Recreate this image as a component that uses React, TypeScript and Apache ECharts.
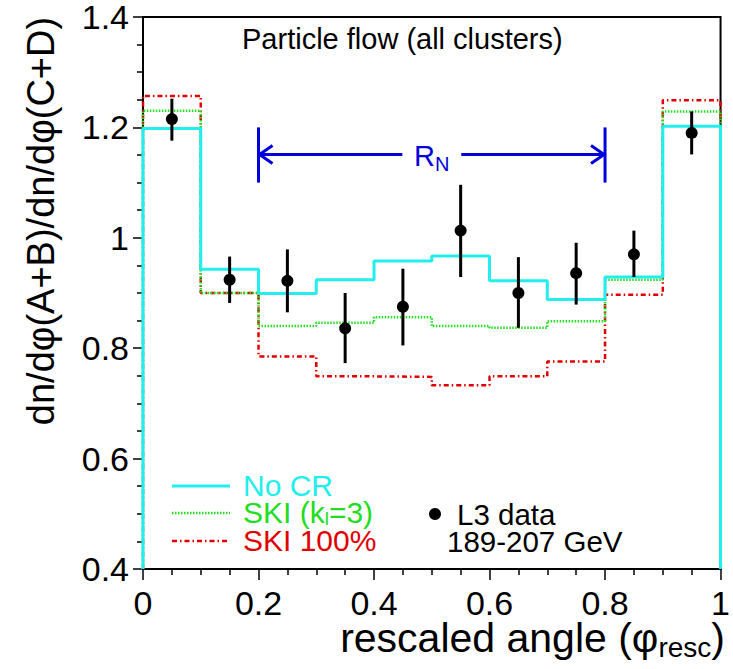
import React, { useEffect, useRef } from "react";
import * as echarts from "echarts";

// Histogram bin edges (11 edges -> 10 bins)
const binEdges = [0, 0.1, 0.2, 0.3, 0.4, 0.5, 0.6, 0.7, 0.8, 0.9, 1.0];
// Model predictions per bin
const noCR = [1.198, 0.943, 0.899, 0.924, 0.958, 0.967, 0.922, 0.888, 0.929, 1.202];
const skiK3 = [1.23, 0.9, 0.84, 0.846, 0.856, 0.84, 0.837, 0.849, 0.924, 1.229];
const ski100 = [1.257, 0.9, 0.785, 0.749, 0.748, 0.733, 0.749, 0.776, 0.897, 1.249];
// L3 data points
const dataX = [0.05, 0.15, 0.25, 0.35, 0.45, 0.55, 0.65, 0.75, 0.85, 0.95];
const dataY = [1.215, 0.924, 0.922, 0.836, 0.875, 1.013, 0.9, 0.936, 0.97, 1.19];
const errLow = [1.176, 0.882, 0.865, 0.773, 0.805, 0.929, 0.837, 0.879, 0.929, 1.151];
const errHigh = [1.252, 0.966, 0.979, 0.9, 0.944, 1.096, 0.965, 0.991, 1.013, 1.229];
// R_N arrow range
const arrowRange = [0.2, 0.8];
const arrowY = 1.151;
const arrowBar = [1.1, 1.2];
const arrowGap = [0.449, 0.551];
// axis
const yMin = 0.4;
const yMax = 1.4;

const FONT = "Liberation Sans, Arial, Helvetica, sans-serif";

function stepData(vals: number[]) {
  const pts: number[][] = [[binEdges[0], yMin]];
  vals.forEach((v, i) => pts.push([binEdges[i], v]));
  pts.push([binEdges[binEdges.length - 1], vals[vals.length - 1]]);
  pts.push([binEdges[binEdges.length - 1], yMin]);
  return pts;
}

export default function App() {
  const ref = useRef<HTMLDivElement>(null);
  useEffect(() => {
    if (!ref.current) return;
    const chart = echarts.init(ref.current, null, { renderer: "svg" });
    const axisText = { color: "#000", fontFamily: FONT, fontSize: 34 };
    chart.setOption({
      animation: false,
      backgroundColor: "#fff",
      grid: {
        left: 143,
        right: 6,
        top: 11,
        bottom: 100,
        show: true,
        borderColor: "#000",
        borderWidth: 2,
      },
      xAxis: {
        type: "value",
        min: 0,
        max: 1,
        interval: 0.2,
        axisLine: { show: true, lineStyle: { color: "#000", width: 2 } },
        axisTick: { show: true, inside: false, length: 11, lineStyle: { color: "#000", width: 1.5 } },
        minorTick: { show: true, splitNumber: 4, length: 6, lineStyle: { color: "#000", width: 1.5 } },
        splitLine: { show: false },
        axisLabel: { ...axisText, margin: 17 },
      },
      yAxis: {
        type: "value",
        min: yMin,
        max: yMax,
        interval: 0.2,
        axisLine: { show: true, lineStyle: { color: "#000", width: 2 } },
        axisTick: { show: true, inside: false, length: 10, lineStyle: { color: "#000", width: 1.5 } },
        minorTick: { show: true, splitNumber: 4, length: 6, lineStyle: { color: "#000", width: 1.5 } },
        splitLine: { show: false },
        axisLabel: { ...axisText, margin: 14 },
      },
      series: [
        {
          name: "SKI 100%",
          type: "line",
          step: "end",
          symbol: "none",
          data: stepData(ski100),
          lineStyle: { color: "#e00000", width: 2.5, type: [5, 3, 1.5, 3] },
          z: 2,
        },
        {
          name: "SKI (kl=3)",
          type: "line",
          step: "end",
          symbol: "none",
          data: stepData(skiK3),
          lineStyle: { color: "#22dd22", width: 2.5, type: [1.5, 1.5] },
          z: 3,
        },
        {
          name: "No CR",
          type: "line",
          step: "end",
          symbol: "none",
          data: stepData(noCR),
          lineStyle: { color: "#22eeee", width: 3 },
          z: 4,
        },
        {
          name: "errors",
          type: "custom",
          data: dataX.map((x, i) => [x, errLow[i], errHigh[i]]),
          renderItem: (params: any, api: any) => {
            const lo = api.coord([api.value(0), api.value(1)]);
            const hi = api.coord([api.value(0), api.value(2)]);
            return {
              type: "line",
              shape: { x1: lo[0], y1: lo[1], x2: hi[0], y2: hi[1] },
              style: { stroke: "#000", lineWidth: 3 },
            };
          },
          z: 5,
        },
        {
          name: "L3 data",
          type: "scatter",
          symbol: "circle",
          symbolSize: 12,
          data: dataX.map((x, i) => [x, dataY[i]]),
          itemStyle: { color: "#000", opacity: 1 },
          z: 6,
        },
        {
          name: "arrow",
          type: "custom",
          data: [[arrowRange[0], arrowRange[1], arrowY]],
          renderItem: (params: any, api: any) => {
            const x0 = api.value(0);
            const x1 = api.value(1);
            const y = api.value(2);
            const a = api.coord([x0, y]);
            const b = api.coord([x1, y]);
            const g1 = api.coord([arrowGap[0], y]);
            const g2 = api.coord([arrowGap[1], y]);
            const bt0 = api.coord([x0, arrowBar[1]]);
            const bb0 = api.coord([x0, arrowBar[0]]);
            const bt1 = api.coord([x1, arrowBar[1]]);
            const bb1 = api.coord([x1, arrowBar[0]]);
            const mid = api.coord([(x0 + x1) / 2, y]);
            const st = { stroke: "#0000dd", lineWidth: 3, fill: "none" };
            return {
              type: "group",
              children: [
                { type: "line", shape: { x1: a[0], y1: a[1], x2: g1[0], y2: g1[1] }, style: st },
                { type: "line", shape: { x1: g2[0], y1: g2[1], x2: b[0], y2: b[1] }, style: st },
                { type: "line", shape: { x1: bt0[0], y1: bt0[1], x2: bb0[0], y2: bb0[1] }, style: st },
                { type: "line", shape: { x1: bt1[0], y1: bt1[1], x2: bb1[0], y2: bb1[1] }, style: st },
                {
                  type: "polyline",
                  shape: { points: [[a[0] + 14, a[1] - 9], [a[0] + 1, a[1]], [a[0] + 14, a[1] + 9]] },
                  style: st,
                },
                {
                  type: "polyline",
                  shape: { points: [[b[0] - 14, b[1] - 9], [b[0] - 1, b[1]], [b[0] - 14, b[1] + 9]] },
                  style: st,
                },
                {
                  type: "text",
                  x: mid[0],
                  y: mid[1] + 2,
                  style: {
                    text: "{r|R}{n|N}",
                    align: "center",
                    verticalAlign: "middle",
                    rich: {
                      r: { fontSize: 29, fontFamily: FONT, fill: "#0000dd", color: "#0000dd" },
                      n: { fontSize: 20, fontFamily: FONT, fill: "#0000dd", color: "#0000dd", padding: [16, 0, 0, 0] },
                    },
                  },
                },
              ],
            };
          },
          z: 7,
        },
      ],
      graphic: [
        {
          type: "text",
          left: 242,
          top: 24,
          style: { text: "Particle flow (all clusters)", fontSize: 29, fontFamily: FONT, fill: "#000" },
        },
        {
          type: "text",
          x: 41,
          y: 221,
          rotation: Math.PI / 2,
          style: {
            text: "dn/dφ(A+B)/dn/dφ(C+D)",
            fontSize: 38,
            fontFamily: FONT,
            fill: "#000",
            align: "center",
            verticalAlign: "middle",
          },
        },
        {
          type: "text",
          right: 8,
          top: 617,
          style: {
            text: "{a|rescaled angle (φ}{s|resc}{a|)}",
            rich: {
              a: { fontSize: 41, fontFamily: FONT, fill: "#000", color: "#000" },
              s: { fontSize: 28, fontFamily: FONT, fill: "#000", color: "#000", padding: [20, 0, 0, 0] },
            },
          },
        },
        // legend lines
        { type: "line", shape: { x1: 172, y1: 486, x2: 230, y2: 486 }, style: { stroke: "#22eeee", lineWidth: 3 } },
        { type: "line", shape: { x1: 172, y1: 513, x2: 230, y2: 513 }, style: { stroke: "#22dd22", lineWidth: 2.5, lineDash: [1.5, 1.5] } },
        { type: "line", shape: { x1: 172, y1: 541, x2: 230, y2: 541 }, style: { stroke: "#e00000", lineWidth: 2.5, lineDash: [5, 3, 1.5, 3] } },
        {
          type: "text",
          left: 243,
          top: 470,
          style: { text: "No CR", fontSize: 30, fontFamily: FONT, fill: "#22eeee" },
        },
        {
          type: "text",
          left: 243,
          top: 497,
          style: {
            text: "{a|SKI (k}{s|l}{a|=3)}",
            rich: {
              a: { fontSize: 30, fontFamily: FONT, fill: "#22dd22", color: "#22dd22" },
              s: { fontSize: 19, fontFamily: FONT, fill: "#22dd22", color: "#22dd22", padding: [13, 0, 0, 0] },
            },
          },
        },
        {
          type: "text",
          left: 243,
          top: 525,
          style: { text: "SKI 100%", fontSize: 30, fontFamily: FONT, fill: "#e00000" },
        },
        { type: "circle", shape: { cx: 435, cy: 514, r: 6 }, style: { fill: "#000" } },
        {
          type: "text",
          left: 457,
          top: 499,
          style: { text: "L3 data", fontSize: 29.5, fontFamily: FONT, fill: "#000" },
        },
        {
          type: "text",
          left: 447,
          top: 526,
          style: { text: "189-207 GeV", fontSize: 29.5, fontFamily: FONT, fill: "#000" },
        },
      ],
    });
    return () => chart.dispose();
  }, []);
  return (
    <div
      ref={ref}
      style={{ position: "fixed", left: 0, top: 0, width: 733, height: 669, background: "#fff" }}
    />
  );
}
